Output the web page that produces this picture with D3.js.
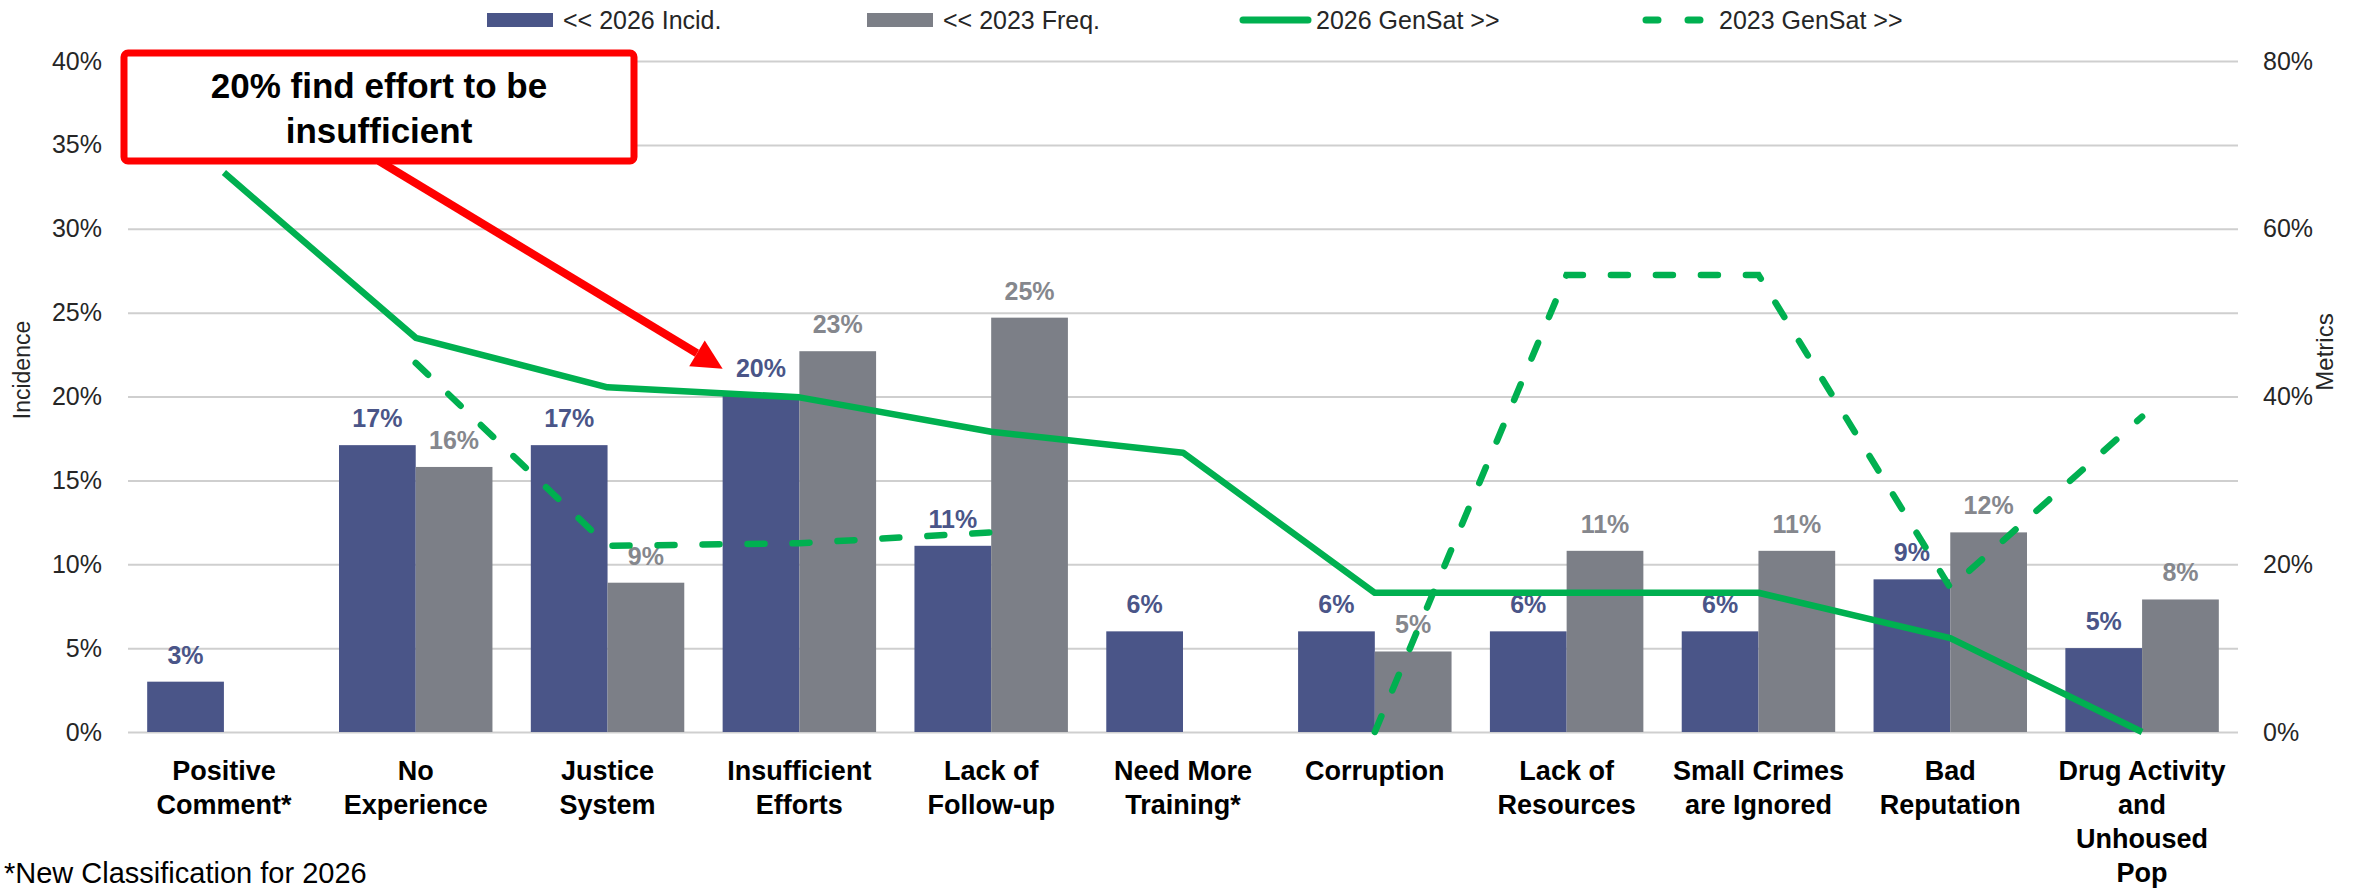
<!DOCTYPE html>
<html lang="en">
<head>
<meta charset="UTF-8">
<title>Incidence vs GenSat</title>
<script src="https://d3js.org/d3.v7.min.js"></script>
<style>
  body { margin: 0; background: #fff; }
  svg { display: block; font-family: "Liberation Sans", Arial, sans-serif; }
</style>
</head>
<body>
<svg id="chart" width="2356" height="892"></svg>
<script>

// data
const categories = ['Positive Comment*', 'No Experience', 'Justice System', 'Insufficient Efforts',
    'Lack of Follow-up', 'Need More Training*', 'Corruption', 'Lack of Resources',
    'Small Crimes are Ignored', 'Bad Reputation', 'Drug Activity and Unhoused Pop'];
const categoryLines = [['Positive', 'Comment*'], ['No', 'Experience'], ['Justice', 'System'],
    ['Insufficient', 'Efforts'], ['Lack of', 'Follow-up'], ['Need More', 'Training*'],
    ['Corruption'], ['Lack of', 'Resources'], ['Small Crimes', 'are Ignored'],
    ['Bad', 'Reputation'], ['Drug Activity', 'and', 'Unhoused', 'Pop']];
const incid2026 = [0.030, 0.171, 0.171, 0.201, 0.111, 0.060, 0.060, 0.060, 0.060, 0.091, 0.050];
const freq2023  = [null, 0.158, 0.089, 0.227, 0.247, null, 0.048, 0.108, 0.108, 0.119, 0.079];
const genSat2026 = [0.667, 0.470, 0.411, 0.399, 0.358, 0.333, 0.166, 0.166, 0.166, 0.112, 0.0];
const genSat2023 = [null, 0.440, 0.222, 0.225, 0.238, null, 0.0, 0.545, 0.545, 0.172, 0.376];
const leftTicks = [0, 0.05, 0.10, 0.15, 0.20, 0.25, 0.30, 0.35, 0.40];
const rightTicks = [0, 0.20, 0.40, 0.60, 0.80];
const legendLabels = ['<< 2026 Incid.', '<< 2023 Freq.', '2026 GenSat >>', '2023 GenSat >>'];
const noteText = '*New Classification for 2026';
const calloutLines = ['20% find effort to be', 'insufficient'];

const BLUE = '#4a5588', GREY = '#7c7f87', GREEN = '#00b050', RED = '#ff0000';

const svg = d3.select('#chart');
const plotL = 128, plotR = 2238, plotT = 61, plotB = 732;

const x0 = d3.scaleBand().domain(categories).range([plotL, plotR]).paddingInner(0.2).paddingOuter(0.1);
const x1 = d3.scaleBand().domain(['inc', 'freq']).range([0, x0.bandwidth()]);
const yL = d3.scaleLinear().domain([0, 0.40]).range([plotB, plotT]);
const yR = d3.scaleLinear().domain([0, 0.80]).range([plotB, plotT]);
const pct = d3.format('.0%');

// left axis + gridlines
const gl = svg.append('g').attr('transform', `translate(${plotL},0)`)
    .call(d3.axisLeft(yL).tickValues(leftTicks).tickFormat(pct).tickSize(-(plotR - plotL)).tickPadding(26));
gl.select('.domain').remove();
gl.selectAll('.tick line').attr('stroke', '#cfcfcf').attr('stroke-width', 2);
gl.selectAll('.tick text').attr('font-size', 25).attr('fill', '#262626')
    .attr('font-family', '"Liberation Sans", Arial, sans-serif');

// right axis (labels only)
const gr = svg.append('g').attr('transform', `translate(${plotR},0)`)
    .call(d3.axisRight(yR).tickValues(rightTicks).tickFormat(pct).tickSize(0).tickPadding(25));
gr.select('.domain').remove();
gr.selectAll('.tick text').attr('font-size', 25).attr('fill', '#262626')
    .attr('font-family', '"Liberation Sans", Arial, sans-serif');

// axis titles
svg.append('text').attr('transform', `translate(30,370) rotate(-90)`)
    .attr('text-anchor', 'middle').attr('font-size', 23).attr('fill', '#262626').text('Incidence');
svg.append('text').attr('transform', `translate(2333,352) rotate(-90)`)
    .attr('text-anchor', 'middle').attr('font-size', 24).attr('fill', '#262626').text('Metrics');

// bars
const rows = categories.map((c, i) => ({ c, inc: incid2026[i], freq: freq2023[i] }));
const grp = svg.append('g').selectAll('g').data(rows).join('g')
    .attr('transform', d => `translate(${x0(d.c)},0)`);

grp.append('rect')
    .attr('x', x1('inc')).attr('width', x1.bandwidth())
    .attr('y', d => yL(d.inc)).attr('height', d => plotB - yL(d.inc))
    .attr('fill', BLUE);
grp.filter(d => d.freq != null).append('rect')
    .attr('x', x1('freq')).attr('width', x1.bandwidth())
    .attr('y', d => yL(d.freq)).attr('height', d => plotB - yL(d.freq))
    .attr('fill', GREY);

// bar labels
grp.append('text')
    .attr('x', x1('inc') + x1.bandwidth() / 2).attr('y', d => yL(d.inc) - 18)
    .attr('text-anchor', 'middle').attr('font-size', 25).attr('font-weight', 'bold')
    .attr('fill', BLUE).text(d => pct(d.inc));
grp.filter(d => d.freq != null).append('text')
    .attr('x', x1('freq') + x1.bandwidth() / 2).attr('y', d => yL(d.freq) - 18)
    .attr('text-anchor', 'middle').attr('font-size', 25).attr('font-weight', 'bold')
    .attr('fill', '#85878d').text(d => pct(d.freq));

// lines on the right axis
const cx = c => x0(c) + x0.bandwidth() / 2;
const line = d3.line().defined(d => d.v != null).x(d => cx(d.c)).y(d => yR(d.v));

svg.append('path')
    .datum(categories.map((c, i) => ({ c, v: genSat2026[i] })))
    .attr('d', line).attr('fill', 'none').attr('stroke', GREEN)
    .attr('stroke-width', 6.5).attr('stroke-linejoin', 'round');

svg.append('path')
    .datum(categories.map((c, i) => ({ c, v: genSat2023[i] })))
    .attr('d', line).attr('fill', 'none').attr('stroke', GREEN)
    .attr('stroke-width', 6.5).attr('stroke-dasharray', '17 28').attr('stroke-linecap', 'round');

// category labels
const gx = svg.append('g').attr('transform', `translate(0,${plotB})`)
    .call(d3.axisBottom(x0).tickSize(0).tickFormat(''));
gx.select('.domain').remove();
gx.selectAll('.tick').each(function (c, i) {
    const t = d3.select(this).append('text')
        .attr('text-anchor', 'middle').attr('font-size', 27).attr('font-weight', 'bold')
        .attr('fill', '#000').attr('font-family', '"Liberation Sans", Arial, sans-serif');
    categoryLines[i].forEach((s, k) => {
        t.append('tspan').attr('x', 0).attr('y', 48 + k * 34).text(s);
    });
});

// footnote
svg.append('text').attr('x', 4).attr('y', 883).attr('font-size', 29).attr('fill', '#000').text(noteText);

// legend
const legX = [487, 867, 1240, 1643];
const leg = svg.append('g');
leg.append('rect').attr('x', legX[0]).attr('y', 13).attr('width', 66).attr('height', 14).attr('fill', BLUE);
leg.append('rect').attr('x', legX[1]).attr('y', 13).attr('width', 66).attr('height', 14).attr('fill', GREY);
leg.append('line').attr('x1', legX[2] + 3).attr('x2', legX[2] + 68).attr('y1', 20).attr('y2', 20)
    .attr('stroke', GREEN).attr('stroke-width', 7).attr('stroke-linecap', 'round');
leg.append('line').attr('x1', legX[3] + 3).attr('x2', legX[3] + 68).attr('y1', 20).attr('y2', 20)
    .attr('stroke', GREEN).attr('stroke-width', 7).attr('stroke-linecap', 'round')
    .attr('stroke-dasharray', '12 30');
legendLabels.forEach((s, i) => {
    leg.append('text').attr('x', legX[i] + 76).attr('y', 29).attr('font-size', 25)
        .attr('fill', '#262626').text(s);
});

// callout
const box = { x: 124, y: 53, w: 510, h: 108 };
const tipX = x0(categories[3]), tipY = yL(incid2026[3]) - 26;
const startX = 379, startY = box.y + box.h;
const dx = tipX - startX, dy = tipY - startY, len = Math.hypot(dx, dy);
const ux = dx / len, uy = dy / len, head = 30, half = 15;
const bx = tipX - ux * head, by = tipY - uy * head;
svg.append('line').attr('x1', startX).attr('y1', startY).attr('x2', bx).attr('y2', by)
    .attr('stroke', RED).attr('stroke-width', 8);
svg.append('path')
    .attr('d', `M${tipX},${tipY}L${bx - uy * half},${by + ux * half}L${bx + uy * half},${by - ux * half}Z`)
    .attr('fill', RED);
svg.append('rect').attr('x', box.x).attr('y', box.y).attr('width', box.w).attr('height', box.h)
    .attr('rx', 4).attr('fill', '#fff').attr('stroke', RED).attr('stroke-width', 7);
const ct = svg.append('text').attr('text-anchor', 'middle').attr('font-size', 35)
    .attr('font-weight', 'bold').attr('fill', '#000');
calloutLines.forEach((s, k) => {
    ct.append('tspan').attr('x', box.x + box.w / 2).attr('y', 98 + k * 45).text(s);
});

</script>
</body>
</html>
